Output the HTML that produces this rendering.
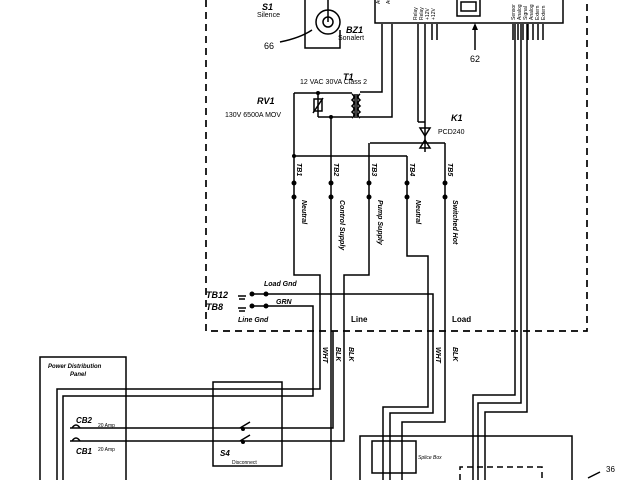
<!DOCTYPE html>
<html><head><meta charset="utf-8"><style>
html,body{margin:0;padding:0;background:#fff;}
svg{display:block;}
text{font-family:"Liberation Sans",sans-serif;fill:#000;}
.i{font-style:italic;font-weight:bold;}
</style></head><body>
<svg width="640" height="480" viewBox="0 0 640 480" xmlns="http://www.w3.org/2000/svg">
<g fill="none" stroke="#000" stroke-width="1.5">
<path d="M206 0 V331 H587 V0" stroke-dasharray="7,5" stroke-width="1.7"/>
<rect x="375" y="-2" width="188" height="25"/>
<rect x="457" y="-2" width="23" height="18"/>
<rect x="461" y="2" width="15" height="9"/>
<path d="M305 0 V48 H340 V30"/>
<circle cx="328" cy="22" r="12"/>
<circle cx="328" cy="22" r="5"/>
<path d="M328 22 V0"/>
<path d="M280 42 Q300 38 312 30"/>
<path d="M475 50 V25"/>
<path d="M382 24 V92 H360"/>
<path d="M392 24 V117 H360"/>
<path d="M352 94 q4 3 0 6 q4 3 0 6 q4 3 0 6 q4 3 0 6"/>
<path d="M360 94 q-4 3 0 6 q-4 3 0 6 q-4 3 0 6 q-4 3 0 6"/>
<path d="M355 94 V118 M357 94 V118"/>
<path d="M294 93 H352 M318 117 H352 M318 93 V117"/>
<rect x="314" y="99" width="8" height="12"/>
<path d="M313 113 L323 98"/>
<path d="M331 117 V480"/>
<path d="M418 24 V122 M425 24 V122 M432 24 V40 M437 24 V40"/>
<path d="M418 122 H425"/>
<path d="M425 122 V152"/>
<path d="M420 128 L430 128 L425 136 Z M420 148 L430 148 L425 140 Z"/>
<path d="M370 143 H445"/>
<path d="M513 24 V40 M518 24 V40 M523 24 V40 M528 24 V40 M533 24 V40 M538 24 V40 M543 24 V40"/>
<path d="M515 24 V395 H473 V480"/>
<path d="M521 24 V403 H478 V480"/>
<path d="M527 24 V412 H485 V480"/>
<path d="M294 93 V275 H320 V389 H57 V480"/>
<path d="M294 156 H407"/>
<path d="M369 143 V275 H344 V441 H70"/>
<path d="M407 156 V256 H428 V407 H383 V480"/>
<path d="M445 143 V422 H402 V480"/>
<path d="M253 294 H433 V413 H390 V480"/>
<path d="M253 306 H313 V396 H63 V480"/>
<path d="M333 331 V428 H70"/>
<path d="M238 296 h8 M239 299 h6 M238 308 h8 M239 311 h6"/>
<rect x="40" y="357" width="86" height="130"/>
<path d="M72 428 q4 -6 8 0 M72 441 q4 -6 8 0"/>
<rect x="213" y="382" width="69" height="84"/>
<path d="M240 428 L250 422 M240 441 L250 435"/>
<rect x="360" y="436" width="212" height="60"/>
<rect x="372" y="441" width="44" height="32"/>
<path d="M460 480 V467 H542 V480" stroke-dasharray="6,4"/>
<path d="M588 478 L600 472"/>
</g>
<g fill="#000">
<circle cx="294" cy="183" r="2.5"/><circle cx="294" cy="197" r="2.5"/>
<circle cx="331" cy="183" r="2.5"/><circle cx="331" cy="197" r="2.5"/>
<circle cx="369" cy="183" r="2.5"/><circle cx="369" cy="197" r="2.5"/>
<circle cx="407" cy="183" r="2.5"/><circle cx="407" cy="197" r="2.5"/>
<circle cx="445" cy="183" r="2.5"/><circle cx="445" cy="197" r="2.5"/>
<circle cx="318" cy="93" r="2"/><circle cx="331" cy="117" r="2"/><circle cx="294" cy="156" r="2"/>
<circle cx="252" cy="294" r="2.5"/><circle cx="266" cy="294" r="2.5"/>
<circle cx="252" cy="306" r="2.5"/><circle cx="266" cy="306" r="2.5"/>
<circle cx="243" cy="429" r="2"/><circle cx="243" cy="442" r="2"/>
<path d="M475 23 l-3 7 h6 z"/>
</g>
<g font-size="7">
<text x="262" y="10" class="i" font-size="9">S1</text>
<text x="257" y="17">Silence</text>
<text x="264" y="49" font-size="9">66</text>
<text x="346" y="33" class="i" font-size="9">BZ1</text>
<text x="338" y="40">Sonalert</text>
<text x="470" y="62" font-size="9">62</text>
<text x="343" y="80" class="i" font-size="9">T1</text>
<text x="300" y="84">12 VAC  30VA Class 2</text>
<text x="257" y="104" class="i" font-size="9">RV1</text>
<text x="225" y="117">130V 6500A MOV</text>
<text x="451" y="121" class="i" font-size="9">K1</text>
<text x="438" y="134">PCD240</text>
<text x="264" y="286" class="i">Load Gnd</text>
<text x="206" y="298" class="i" font-size="9">TB12</text>
<text x="206" y="310" class="i" font-size="9">TB8</text>
<text x="276" y="304" class="i">GRN</text>
<text x="238" y="322" class="i">Line Gnd</text>
<text x="351" y="322" font-weight="bold" font-size="8">Line</text>
<text x="452" y="322" font-weight="bold" font-size="8">Load</text>
<text x="48" y="368" class="i" font-size="6">Power Distribution</text>
<text x="70" y="376" class="i" font-size="6">Panel</text>
<text x="76" y="423" class="i" font-size="8">CB2</text>
<text x="98" y="427" font-size="5">20 Amp</text>
<text x="76" y="454" class="i" font-size="8">CB1</text>
<text x="98" y="451" font-size="5">20 Amp</text>
<text x="220" y="456" class="i" font-size="8">S4</text>
<text x="232" y="464" font-size="5">Disconnect</text>
<text x="418" y="459" font-size="5" font-style="italic">Splice Box</text>
<text x="606" y="472" font-size="8">36</text>
</g>
<g font-size="7" class="i">
<text transform="translate(297,163) rotate(90)">TB1</text>
<text transform="translate(334,163) rotate(90)">TB2</text>
<text transform="translate(372,163) rotate(90)">TB3</text>
<text transform="translate(410,163) rotate(90)">TB4</text>
<text transform="translate(448,163) rotate(90)">TB5</text>
<text transform="translate(302,200) rotate(90)">Neutral</text>
<text transform="translate(340,200) rotate(90)">Control Supply</text>
<text transform="translate(378,200) rotate(90)">Pump Supply</text>
<text transform="translate(416,200) rotate(90)">Neutral</text>
<text transform="translate(453,200) rotate(90)">Switched Hot</text>
<text transform="translate(323,347) rotate(90)">WHT</text>
<text transform="translate(336,347) rotate(90)">BLK</text>
<text transform="translate(349,347) rotate(90)">BLK</text>
<text transform="translate(436,347) rotate(90)">WHT</text>
<text transform="translate(453,347) rotate(90)">BLK</text>
</g>
<g font-size="5">
<text transform="translate(380,4) rotate(-90)">AC1</text>
<text transform="translate(390,4) rotate(-90)">AC2</text>
<text transform="translate(417,20) rotate(-90)">Relay</text>
<text transform="translate(423,20) rotate(-90)">Relay</text>
<text transform="translate(429,20) rotate(-90)">+12V</text>
<text transform="translate(435,20) rotate(-90)">+12V</text>
<text transform="translate(515,20) rotate(-90)">Sensor</text>
<text transform="translate(521,20) rotate(-90)">Analog</text>
<text transform="translate(527,20) rotate(-90)">Signal</text>
<text transform="translate(533,20) rotate(-90)">Analog</text>
<text transform="translate(539,20) rotate(-90)">Extern</text>
<text transform="translate(545,20) rotate(-90)">Extern</text>
</g>
</svg>
</body></html>
